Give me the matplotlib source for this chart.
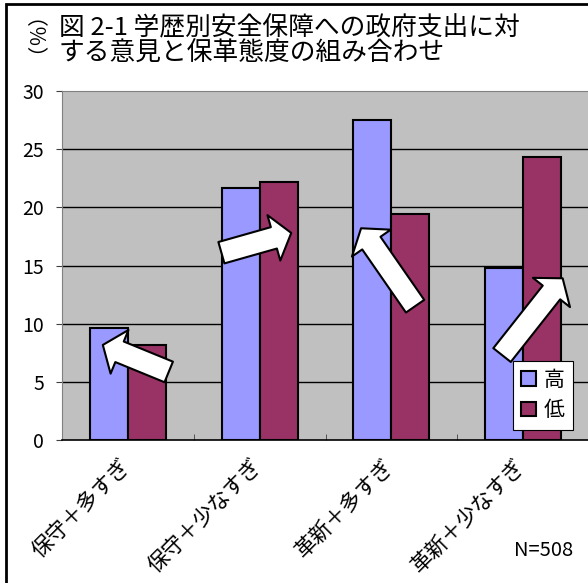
import matplotlib
matplotlib.use("Agg")
import matplotlib.pyplot as plt
from matplotlib.patches import Rectangle, Patch
from matplotlib.transforms import ScaledTranslation
import numpy as np

plt.rcParams['font.family'] = ['Noto Sans CJK JP', 'DejaVu Sans']

# data
categories = ["保守＋多すぎ", "保守＋少なすぎ", "革新＋多すぎ", "革新＋少なすぎ"]
high = [9.6, 21.7, 27.5, 14.8]
low = [8.2, 22.2, 19.4, 24.3]
series_names = ["高", "低"]
yticks = [0, 5, 10, 15, 20, 25, 30]

# arrows (tail -> tip) in data coords
arrows = [
    ((0.31, 5.85), (-0.19, 8.17)),
    ((0.71, 16.1), (1.24, 17.8)),
    ((2.18, 11.5), (1.77, 18.2)),
    ((2.84, 7.3), (3.30, 13.9)),
]

blue = "#9999FF"
red = "#993366"

fig = plt.figure(figsize=(5.88, 5.83), dpi=100)
ax = fig.add_axes([62/588, 143/583, 527/588, 349/583])
ax.set_facecolor("#C0C0C0")

x = np.arange(len(categories))
w = 0.288
ax.bar(x - w/2, high, w, color=blue, edgecolor="black", linewidth=1.5, zorder=3)
ax.bar(x + w/2, low, w, color=red, edgecolor="black", linewidth=1.5, zorder=3)

ax.set_xlim(-0.5, 3.5)
ax.set_ylim(0, 30)
ax.set_yticks(yticks)
ax.set_yticklabels([str(v) for v in yticks], fontsize=14)
ax.tick_params(axis='y', length=4, pad=9, color="#404040")
for v in yticks[1:-1]:
    ax.axhline(v, color="black", linewidth=1, zorder=1)

ax.set_xticks(x)
ax.set_xticklabels(categories, rotation=45, ha='right', va='top',
                   rotation_mode='anchor', fontsize=15.5)
ax.tick_params(axis='x', length=0, pad=11)
shift = ScaledTranslation(-9/100, 0, fig.dpi_scale_trans)
for lbl in ax.get_xticklabels():
    lbl.set_transform(lbl.get_transform() + shift)
ax.set_xticks(np.arange(-0.5, 3.6, 1.0), minor=True)
ax.tick_params(axis='x', which='minor', direction='in', length=4, color="#404040")

for s in ['top', 'left']:
    ax.spines[s].set_color("#808080")
ax.spines['bottom'].set_color("black")
ax.spines['bottom'].set_linewidth(1.2)
ax.spines['right'].set_visible(False)

for tail, tip in arrows:
    ax.annotate("", xy=tip, xytext=tail, zorder=5,
                arrowprops=dict(arrowstyle="simple,head_length=13,head_width=34,tail_width=16",
                                mutation_scale=1, shrinkA=0, shrinkB=0,
                                fc="white", ec="black", lw=1.5))

handles = [Patch(facecolor=blue, edgecolor="black", linewidth=1.5),
           Patch(facecolor=red, edgecolor="black", linewidth=1.5)]
leg = ax.legend(handles, series_names, loc='lower right', bbox_to_anchor=(0.97, 0.03),
                borderaxespad=0, fontsize=15, handlelength=0.7, handleheight=0.7,
                handletextpad=0.4, borderpad=0.4, labelspacing=0.4,
                fancybox=False, framealpha=1, edgecolor="black")
leg.get_frame().set_linewidth(0.8)
leg.set_zorder(6)

fig.text(59/588, 1 - 15/583, "図 2-1 学歴別安全保障への政府支出に対\nする意見と保革態度の組み合わせ",
         ha='left', va='top', fontsize=18.5, linespacing=1.0)
fig.text(21/588, 1 - 50/583, "（％）", rotation=-90, ha='center', va='center', fontsize=15)
fig.text(573/588, 1 - 551/583, "N=508", ha='right', va='center', fontsize=14.5)

fig.patches.append(Rectangle((6/588, -0.1), 1.2, 1.1 - 4/583, transform=fig.transFigure,
                             fill=False, edgecolor="black", linewidth=2, figure=fig))

fig.savefig("out.png", dpi=100)
